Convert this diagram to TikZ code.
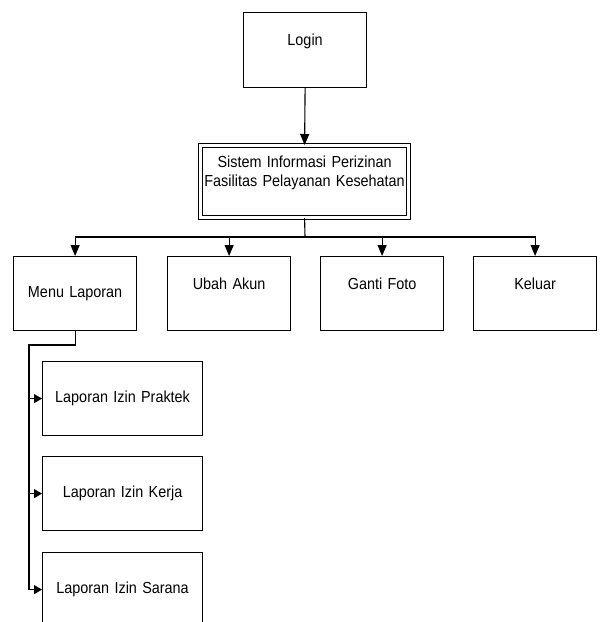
\documentclass[tikz,border=0pt]{standalone}
\usepackage{fontspec}
\setmainfont{Liberation Sans}[FakeStretch=0.9]
\usetikzlibrary{arrows.meta}
\begin{document}
\begin{tikzpicture}[x=1pt,y=-1pt,
  font=\fontsize{16}{19}\selectfont,
  box/.style={draw,line width=1.2pt,rectangle,anchor=north west,inner sep=0pt,align=center},
  topbox/.style={box,minimum width=123pt,minimum height=74pt,text width=123pt,text height=33pt,text depth=41pt},
  midbox/.style={box,minimum width=123pt,minimum height=74pt,text width=123pt},
  subbox/.style={box,minimum width=160pt,minimum height=74pt,text width=160pt},
  arr/.style={line width=1.1pt,-{Triangle[width=9pt,length=11pt]}},
  sarr/.style={line width=1.1pt,-{Triangle[width=9pt,length=8pt]}},
  ln/.style={line width=1.1pt}]
\useasboundingbox (0,0) rectangle (605,622);
% top
\node[topbox,minimum height=75pt,text depth=42pt] (login) at (243,12) {Login};
\node[box,double,double distance=2.5pt,minimum width=208pt,minimum height=72pt,text width=208pt,text height=22pt,text depth=50pt] (si) at (200,145)
  {Sistem Informasi Perizinan\\Fasilitas Pelayanan Kesehatan};
\draw[arr] (login.south) -- (si.north);
% second level
\node[midbox] (menu) at (13,256) {Menu Laporan};
\node[topbox] (ubah) at (167,256) {Ubah Akun};
\node[topbox] (ganti) at (320,256) {Ganti Foto};
\node[topbox] (keluar) at (473,256) {Keluar};
\coordinate (bus) at (305,237);
\draw[ln] (si.south) -- (bus);
\draw[arr] (bus) -| (menu.north);
\draw[arr] (bus) -| (ubah.north);
\draw[arr] (bus) -| (ganti.north);
\draw[arr] (bus) -| (keluar.north);
% sub level
\node[subbox] (praktek) at (42,361) {Laporan Izin Praktek};
\node[subbox] (kerja) at (42,456) {Laporan Izin Kerja};
\node[subbox] (sarana) at (42,552) {Laporan Izin Sarana};
\coordinate (sp) at (29,345);
\draw[sarr] (menu.south) |- (sp) |- (sarana.west);
\draw[sarr] (sp |- praktek.west) -- (praktek.west);
\draw[sarr] (sp |- kerja.west) -- (kerja.west);
\end{tikzpicture}
\end{document}
